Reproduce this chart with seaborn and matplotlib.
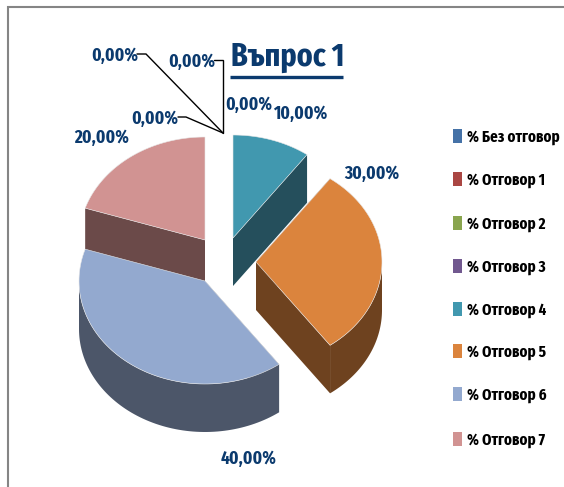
import numpy as np
import seaborn as sns
import matplotlib.pyplot as plt

## chart values
categories = ['% Без отговор', '% Отговор 1', '% Отговор 2', '% Отговор 3',
              '% Отговор 4', '% Отговор 5', '% Отговор 6', '% Отговор 7']
values = [0, 0, 0, 0, 10, 30, 40, 20]
value_labels = ['0,00%', '0,00%', '0,00%', '0,00%',
                '10,00%', '30,00%', '40,00%', '20,00%']
title = 'Въпрос 1'

top_colors = ['#4572A7', '#AA4643', '#89A54E', '#71588F',
              '#4198AF', '#DB843D', '#93A9CF', '#D19392']
wall_colors = {4: '#254F5C', 5: '#6E421F', 6: '#4C5669', 7: '#6B4A49'}

## pie geometry, in pixels of the picture
RX, RY, DEPTH = 126, 103, 48
centers = {4: (233, 238), 5: (256, 262), 6: (205, 281), 7: (205, 240)}
NAVY = '#0B3A6E'

sns.set_theme(style='white')
plt.rcParams['font.family'] = ['Fira Sans Extra Condensed', 'DejaVu Sans']
plt.rcParams['font.weight'] = 'bold'

fig = plt.figure(figsize=(5.64, 4.87), dpi=100)
ax = fig.add_axes([0, 0, 1, 1])
ax.set_xlim(0, 564)
ax.set_ylim(487, 0)
ax.axis('off')

## start and end of each slice, clockwise from the top
ends = np.cumsum(values) / np.sum(values) * 2 * np.pi
starts = ends - np.array(values) / np.sum(values) * 2 * np.pi


def rim(i, a0, a1):
    t = np.linspace(a0, a1, 80)
    cx, cy = centers[i]
    return cx + RX * np.sin(t), cy - RY * np.cos(t)


def draw_slice(i):
    a0, a1 = starts[i], ends[i]
    cx, cy = centers[i]
    # the two cut faces of the slice
    for a in (a0, a1):
        ex, ey = cx + RX * np.sin(a), cy - RY * np.cos(a)
        ax.fill([cx, ex, ex, cx], [cy, ey, ey + DEPTH, cy + DEPTH],
                color=wall_colors[i], lw=0)
    # outer wall, only the part facing the viewer
    w0, w1 = max(a0, np.pi / 2), min(a1, 3 * np.pi / 2)
    if w1 > w0:
        x, y = rim(i, w0, w1)
        ax.fill(np.r_[x, x[::-1]], np.r_[y, y[::-1] + DEPTH],
                color=wall_colors[i], lw=0)
    x, y = rim(i, a0, a1)
    ax.fill(np.r_[cx, x], np.r_[cy, y], facecolor=top_colors[i],
            edgecolor='#E8E8E8', lw=0.4)


for i in [4, 7, 5, 6]:
    draw_slice(i)

## frame of the slide
ax.plot([7.5, 7.5, 564], [487, 6.5, 6.5], color='#858585', lw=1.5,
        solid_joinstyle='miter')

## title
ax.text(231, 57, title, color=NAVY, fontsize=23.4, ha='left', va='center')
ax.plot([230, 343], [76.5, 76.5], color=NAVY, lw=2.4, solid_capstyle='butt')

## data labels
label_pos = [(115, 56), (192, 62), (155, 119), (249, 105),
             (300, 114), (372, 174), (249, 459), (102, 138)]
for txt, (lx, ly) in zip(value_labels, label_pos):
    ax.text(lx, ly, txt, color=NAVY, fontsize=13.5, ha='center', va='center')

## leader lines of the empty slices
for xs, ys in [([137, 146, 223], [54, 54, 133]),
               ([214, 223, 223], [60, 60, 133]),
               ([178, 186, 223], [117, 117, 133])]:
    ax.plot(xs, ys, color='black', lw=1, solid_joinstyle='miter')

## legend
legend_y = [136, 179, 223, 266, 309, 351, 394, 439]
for name, color, y in zip(categories, top_colors, legend_y):
    ax.fill([453, 462, 462, 453], [y - 7, y - 7, y + 7, y + 7], color=color, lw=0)
    ax.text(467, y + 1, name, color='black', fontsize=11.7, ha='left', va='center')

fig.savefig('out.png', dpi=100)
